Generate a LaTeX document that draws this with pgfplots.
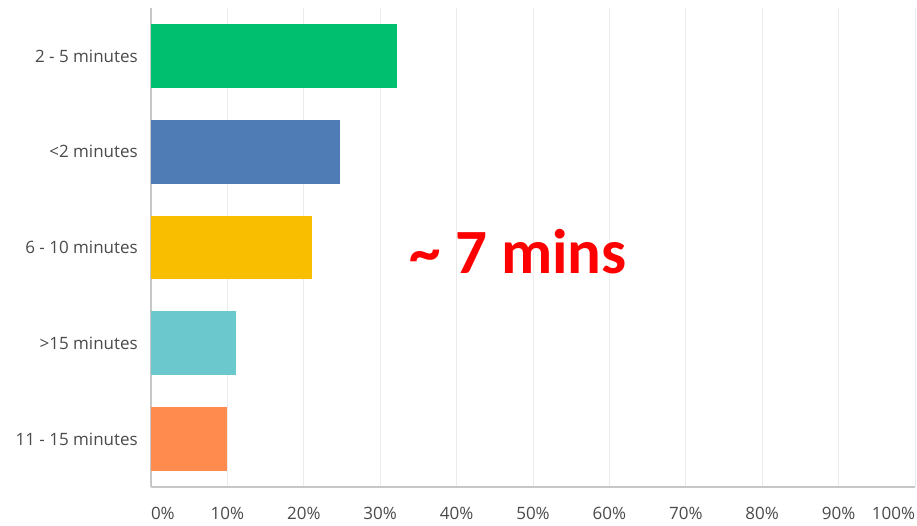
\documentclass[border=0pt]{standalone}
\usepackage{pgfplots}
\pgfplotsset{compat=1.18}
\usepackage{fontspec}
\setmainfont{Open Sans}
\newfontfamily\carlito{Carlito}
\definecolor{cgreen}{HTML}{00BF6F}
\definecolor{cblue}{HTML}{507CB6}
\definecolor{cyellow}{HTML}{F9BE00}
\definecolor{cteal}{HTML}{6BC8CD}
\definecolor{corange}{HTML}{FF8B4F}
\definecolor{labgray}{HTML}{4A4A4A}
\begin{document}
\begin{tikzpicture}
\useasboundingbox (0,0) rectangle (917pt,526pt);
\begin{axis}[
  at={(151pt,39pt)}, anchor=south west,
  scale only axis, width=764pt, height=479pt,
  xmin=0, xmax=100, ymin=-0.5, ymax=4.5,
  xbar, bar width=63.7pt,
  axis lines*=left,
  axis line style={draw=black!22, line width=1.2pt},
  xmajorgrids, major grid style={draw=black!8, line width=1pt},
  major tick length=0pt,
  xtick={0,10,...,100},
  xticklabels={\makebox[0pt][l]{0\%},10\%,20\%,30\%,40\%,50\%,60\%,70\%,80\%,90\%,\makebox[0pt][r]{100\%}},
  ytick={0,1,2,3,4},
  yticklabels={11 - 15 minutes,>15 minutes,6 - 10 minutes,<2 minutes,2 - 5 minutes},
  tick label style={font=\fontsize{17}{19}\selectfont, text=labgray},
  xticklabel style={inner sep=0pt, yshift=-20pt},
  yticklabel style={inner sep=0pt, xshift=-13pt},
]
\addplot[fill=cgreen, draw=none, bar shift=0pt] coordinates {(32.2,4)};
\addplot[fill=cblue, draw=none, bar shift=0pt] coordinates {(24.7,3)};
\addplot[fill=cyellow, draw=none, bar shift=0pt] coordinates {(21.1,2)};
\addplot[fill=cteal, draw=none, bar shift=0pt] coordinates {(11.1,1)};
\addplot[fill=corange, draw=none, bar shift=0pt] coordinates {(9.9,0)};
\node[anchor=base west, inner sep=0pt, text=red, font=\carlito\bfseries\fontsize{63}{70}\selectfont] at (axis cs:33.8,1.73) {\char`\~{} 7 mins};
\end{axis}
\end{tikzpicture}
\end{document}
